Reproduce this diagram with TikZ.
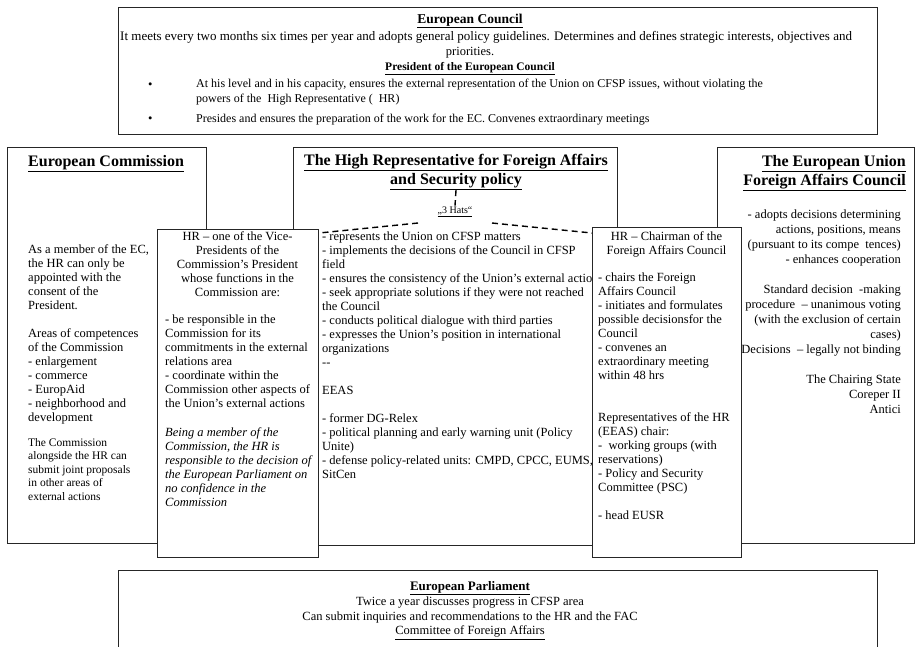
\documentclass[tikz,border=0pt]{standalone}
\usepackage{fontspec}
\setmainfont{Liberation Serif}
\usetikzlibrary{calc}

\tikzset{
  box/.style={draw=black!85, line width=1.1pt, rectangle, inner sep=0pt, anchor=north west},
  frontbox/.style={box, fill=white},
  txt/.style={inner sep=0pt, font=\fontsize{12.5}{14}\selectfont, align=left, anchor=north west,
    execute at begin node={\rule{0pt}{0.75em}}},
  ctxt/.style={txt, align=center, anchor=north},
  rtxt/.style={txt, align=right, anchor=north east},
  head/.style={txt, font=\fontsize{16}{19}\selectfont\bfseries, align=center, anchor=north},
  hatline/.style={dash pattern=on 6pt off 4pt, line width=1.4pt},
}

\begin{document}
\begin{tikzpicture}[x=1pt, y=-1pt]
    \useasboundingbox (0,0) rectangle (917,646);
    \clip (0,0) rectangle (917,646);

    % boxes at the back
    \node [box, minimum width=759pt, minimum height=127pt] (council) at (118,7) {};
    \node [box, minimum width=199pt, minimum height=396pt] (ec) at (7,147) {};
    \node [box, minimum width=324pt, minimum height=398pt] (hr) at (293,147) {};
    \node [box, minimum width=197pt, minimum height=396pt] (fac) at (717,147) {};
    \node [box, minimum width=759pt, minimum height=110pt] (ep) at (118,570) {};

    % European Council
    \node [head, font=\fontsize{13.5}{16}\selectfont\bfseries] (councilhead) at (470,13) {\underline{European Council}};
    \node [txt, font=\fontsize{13}{14}\selectfont] (councilmeet) at (120,31) {It meets every two months six times per year and adopts general policy guidelines. Determines and defines strategic interests, objectives and};
    \node [ctxt] (councilprio) at (470,46) {priorities.};
    \node [ctxt, font=\fontsize{11.5}{14}\selectfont\bfseries] (presidenthead) at (470,62) {\underline{President of the European Council}};
    \node [txt] (bulleta) at (148,79) {•};
    \node [txt, font=\fontsize{12}{15}\selectfont] (presidenta) at (196,79) {At his level and in his capacity, ensures the external representation of the Union on CFSP issues, without violating the\\powers of the \ High Representative ( \ HR)};
    \node [txt] (bulletb) at (148,113) {•};
    \node [txt, font=\fontsize{12}{15}\selectfont] (presidentb) at (196,113) {Presides and ensures the preparation of the work for the EC. Convenes extraordinary meetings};

    % European Commission
    \node [head, anchor=north west] (echead) at (28,154) {\underline{European Commission}};
    \node [txt] (ectext) at (28,244) {As a member of the EC,\\the HR can only be\\appointed with the\\consent of the\\President.\\[14pt]
      Areas of competences\\of the Commission\\- enlargement\\- commerce\\- EuropAid\\- neighborhood and\\development};
    \node [txt, font=\fontsize{11.5}{13.5}\selectfont] (ecjoint) at (28,438) {The Commission\\alongside the HR can\\submit joint proposals\\in other areas of\\external actions};

    % High Representative
    \node [head] (hrhead) at (456,154) {\underline{The High Representative for Foreign Affairs}\\\underline{and Security policy}};
    \node [inner sep=1pt, font=\fontsize{10}{12}\selectfont] (hats) at (455,212) {\underline{„3 Hats“}};
    \node [txt] (hrtext) at (322,232) {- represents the Union on CFSP matters\\- implements the decisions of the Council in CFSP\\field\\
      - ensures the consistency of the Union’s external actions\\- seek appropriate solutions if they were not reached\\the Council\\
      - conducts political dialogue with third parties\\- expresses the Union's position in international\\organizations\\-{}-\\[14pt]
      EEAS\\[14pt]
      - former DG-Relex\\- political planning and early warning unit (Policy\\Unite)\\- defense policy-related units: CMPD, CPCC, EUMS,\\SitCen};

    % Foreign Affairs Council
    \node [head, align=right, anchor=north east] (fachead) at (906,155) {\underline{The European Union}\\\underline{Foreign Affairs Council}};
    \node [rtxt, font=\fontsize{12.5}{15}\selectfont] (factext) at (901,210) {- adopts decisions determining\\actions, positions, means\\(pursuant to its compe \ tences)\\- enhances cooperation\\[15pt]
      Standard decision \ -making\\procedure \ – unanimous voting\\(with the exclusion of certain\\cases)\\Decisions \ – legally not binding\\[15pt]
      The Chairing State\\Coreper II\\Antici};

    % boxes in front
    \node [frontbox, minimum width=161pt, minimum height=328pt] (vp) at (157,229) {};
    \node [frontbox, minimum width=149pt, minimum height=330pt] (chair) at (592,227) {};

    % HR as Vice-President
    \node [ctxt] (vphead) at (237.5,231) {HR – one of the Vice-\\Presidents of the\\Commission’s President\\whose functions in the\\Commission are:};
    \node [txt] (vptext) at (165,315) {- be responsible in the\\Commission for its\\commitments in the external\\relations area\\- coordinate within the\\Commission other aspects of\\the Union’s external actions};
    \node [txt, font=\fontsize{12.5}{14}\selectfont\itshape] (vpnote) at (165,427) {Being a member of the\\Commission, the HR is\\responsible to the decision of\\the European Parliament on\\no confidence in the\\Commission};

    % HR as Chairman
    \node [ctxt] (chairhead) at (666.5,231) {HR – Chairman of the\\Foreign Affairs Council};
    \node [txt] (chairtext) at (598,273) {- chairs the Foreign\\Affairs Council\\- initiates and formulates\\possible decisionsfor the\\Council\\- convenes an\\extraordinary meeting\\within 48 hrs};
    \node [txt] (chairreps) at (598,412) {Representatives of the HR\\(EEAS) chair:\\- \ working groups (with\\reservations)\\- Policy and Security\\Committee (PSC)\\[14pt]- head EUSR};

    % European Parliament
    \node [head, font=\fontsize{13}{16}\selectfont\bfseries] (ephead) at (470,580.5) {\underline{European Parliament}};
    \node [ctxt, font=\fontsize{12.5}{14.5}\selectfont] (eptext) at (470,597) {Twice a year discusses progress in CFSP area\\Can submit inquiries and recommendations to the HR and the FAC\\\underline{Committee of Foreign Affairs}};

    % the 3 hats
    \coordinate (hatsleft) at (418,223);
    \coordinate (hatsright) at (492,223);
    \draw [hatline] (hrhead.south) -- (hats.north);
    \draw [hatline] (hatsleft) -- ($(vp.north east)+(0,4)$);
    \draw [hatline] (hatsright) -- ($(chair.north west)+(0,6)$);
\end{tikzpicture}
\end{document}
